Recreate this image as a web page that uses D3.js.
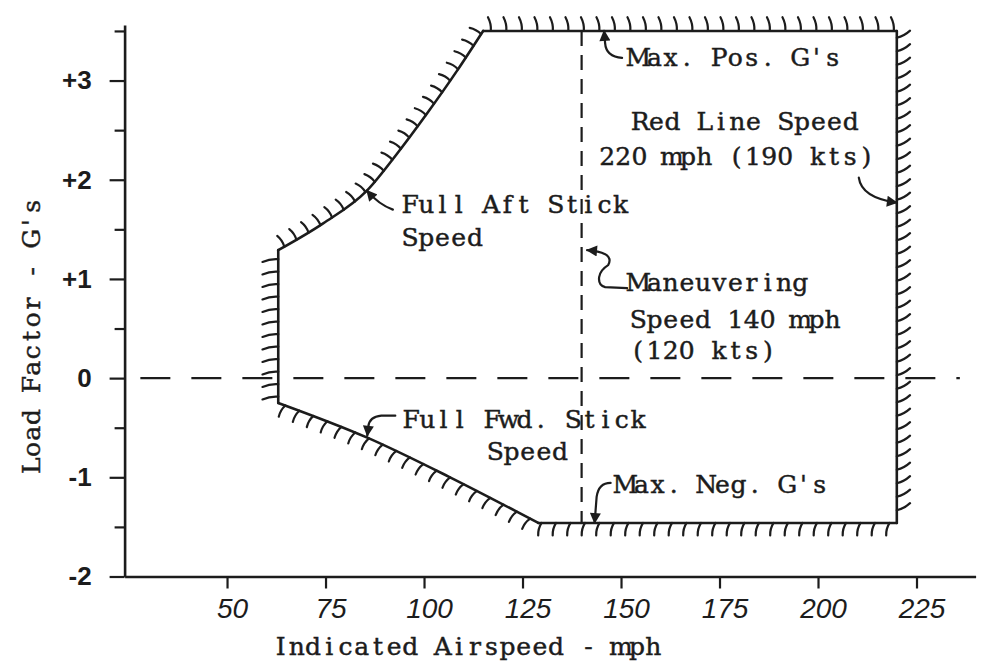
<!DOCTYPE html>
<html>
<head>
<meta charset="utf-8">
<script src="https://cdn.jsdelivr.net/npm/d3@7"></script>
<style>
  html, body { margin: 0; padding: 0; background: #fff; }
  svg { display: block; }
  .type { font-family: "DejaVu Serif", "Liberation Serif", serif; font-size: 25px; fill: #1c1c1c; stroke: #1c1c1c; stroke-width: 0.45px; white-space: pre; }
</style>
</head>
<body>
<svg id="chart" width="988" height="664"></svg>
<script>
// V-n envelope, values (mph, G)
const posStallSpeed = [63, 74.4, 85.5, 93.1, 100.8, 108.4, 115];
const posStallLoad  = [1.29, 1.56, 1.89, 2.26, 2.67, 3.10, 3.5];
const negStallSpeed = [63, 85.6, 106.6, 129];
const negStallLoad  = [-0.25, -0.60, -1.00, -1.46];
const maxPosG = 3.5;
const maxNegG = -1.46;
const redLineSpeed = 220;
const maneuverSpeed = 140;

const xTicks = [50, 75, 100, 125, 150, 175, 200, 225];
const yTicks = [-2, -1, 0, 1, 2, 3];
const yTickLabels = ['-2', '-1', '0', '+1', '+2', '+3'];
const yMinorTicks = [-1.5, -0.5, 0.5, 1.5, 2.5, 3.5];

// notes
const noteText  = ["Max. Pos. G's", "Red Line Speed", "220 mph (190 kts)", "Full Aft Stick", "Speed",
                   "Maneuvering", "Speed 140 mph", "(120 kts)", "Full Fwd. Stick", "Speed", "Max. Neg. G's"];
const noteSpeed = [152.3, 152.8, 144.4, 94.4, 94.4, 152.3, 152.3, 152.3, 94.7, 116, 149];
const noteLoad  = [3.15, 2.505, 2.15, 1.66, 1.33, 0.88, 0.51, 0.19, -0.50, -0.83, -1.16];

const arrowTipSpeed = [145.7, 220, 85.5, 141.4, 85.6, 143.3];
const arrowTipLoad  = [3.5, 1.77, 1.89, 1.29, -0.58, -1.46];
// hand-drawn arrow shapes, offsets in px from the tip
const arrowShapes = [
  'M18,27 Q2,26 1,12 L0,0',
  'M-38,-25 C-36,-10 -22,-3 0,0',
  'M26,19 Q12,14 0,0',
  'M40,38 L18,37 Q11,35 12,27 Q13,20 21,15 Q25,8 18,4 Q12,1 0,0',
  'M28,-20 L14,-20 Q2,-19 1,-9 L0,0',
  'M16,-40 Q4,-40 2,-26 L0,0'
];

const svg = d3.select('#chart');
const ink = '#1c1c1c';
const pitch = 16.2; // typewriter character width

const x = d3.scaleLinear().domain([24, 240]).range([124.6, 975.6]);
const y = d3.scaleLinear().domain([-2, 3.56]).range([576.5, 25]);

// typewriter text: one fixed cell per character
function typeText(parent, str, x0, y0) {
  const xs = Array.from(str, (c, i) => (x0 + pitch * (i + 0.5)).toFixed(1)).join(' ');
  return parent.append('text').attr('class', 'type')
    .attr('x', xs).attr('y', y0).attr('text-anchor', 'middle')
    .text(str);
}

// arrow head
svg.append('defs').append('marker')
  .attr('id', 'head')
  .attr('viewBox', '0 -5 10 10')
  .attr('refX', 9).attr('refY', 0)
  .attr('markerUnits', 'userSpaceOnUse')
  .attr('markerWidth', 13).attr('markerHeight', 11)
  .attr('orient', 'auto')
  .append('path').attr('d', 'M0,-5L10,0L0,5Z').attr('fill', ink);

// Axes
const yAxis = d3.axisLeft(y).tickValues(yTicks).tickSize(15).tickSizeOuter(0).tickPadding(18)
  .tickFormat((d, i) => yTickLabels[i]);
const gy = svg.append('g').attr('transform', `translate(${x(24)},0)`).call(yAxis);
svg.append('g').attr('transform', `translate(${x(24)},0)`)
  .call(d3.axisLeft(y).tickValues(yMinorTicks).tickSize(10).tickFormat(''))
  .select('.domain').remove();

const xAxis = d3.axisBottom(x).tickValues(xTicks).tickSize(12).tickSizeOuter(0).tickPadding(10);
const gx = svg.append('g').attr('transform', `translate(0,${y(-2)})`).call(xAxis);

svg.selectAll('.domain').attr('stroke', ink).attr('stroke-width', 2.6);
svg.selectAll('.tick line').attr('stroke', ink).attr('stroke-width', 2.2);
gy.selectAll('.tick text')
  .attr('font-family', '"Liberation Sans", Arial, sans-serif')
  .attr('font-weight', 'bold').attr('font-size', 26).attr('fill', ink);
gx.selectAll('.tick text')
  .attr('font-family', '"Liberation Sans", Arial, sans-serif')
  .attr('font-style', 'italic').attr('font-size', 28).attr('dx', 5).attr('fill', ink);

const xTitle = 'Indicated Airspeed - mph';
typeText(svg, xTitle, 467 - pitch * xTitle.length / 2, 655);
const yTitle = "Load Factor - G's";
typeText(svg.append('g').attr('transform', 'translate(40,336) rotate(-90)'),
  yTitle, -pitch * yTitle.length / 2, 0);

// Dashed reference lines
svg.append('line')
  .attr('x1', x(28)).attr('x2', x(236)).attr('y1', y(0)).attr('y2', y(0))
  .attr('stroke', ink).attr('stroke-width', 2.2).attr('stroke-dasharray', '30,21');
svg.append('line')
  .attr('x1', x(maneuverSpeed)).attr('x2', x(maneuverSpeed))
  .attr('y1', y(maxPosG)).attr('y2', y(maxNegG))
  .attr('stroke', ink).attr('stroke-width', 2.2).attr('stroke-dasharray', '15,9');

// Envelope boundary pieces (drawn clockwise so the hatches sit outside)
const last = a => a[a.length - 1];
const segments = [
  { pts: [[negStallSpeed[0], negStallLoad[0]], [posStallSpeed[0], posStallLoad[0]]], angle: -10, len: 16, step: 12.5, side: 1 },
  { pts: d3.zip(posStallSpeed, posStallLoad), curve: d3.curveMonotoneX, angle: -4, len: 13, step: 14, side: 1 },
  { pts: [[last(posStallSpeed), maxPosG], [redLineSpeed, maxPosG]], angle: -12, len: 14, step: 15.5, side: 1 },
  { pts: [[redLineSpeed, maxPosG], [redLineSpeed, maxNegG]], angle: -28, len: 15, step: 13.5, side: 1 },
  { pts: [[redLineSpeed, maxNegG], [last(negStallSpeed), maxNegG]], angle: 15, len: 13, step: 14.5, side: 1 },
  { pts: d3.zip(negStallSpeed, negStallLoad), curve: d3.curveMonotoneX, angle: 10, len: 13, step: 15, side: -1 }
];

const env = svg.append('g');
segments.forEach(seg => {
  const line = d3.line().x(d => x(d[0])).y(d => y(d[1])).curve(seg.curve || d3.curveLinear);
  const path = env.append('path')
    .attr('d', line(seg.pts))
    .attr('fill', 'none').attr('stroke', ink).attr('stroke-width', 2.6)
    .attr('stroke-linecap', 'round');
  const node = path.node();
  const L = node.getTotalLength();
  const a = seg.angle * Math.PI / 180;
  for (let s = seg.step * 0.5; s < L; s += seg.step) {
    const p = node.getPointAtLength(s);
    const p0 = node.getPointAtLength(Math.max(0, s - 1));
    const p1 = node.getPointAtLength(Math.min(L, s + 1));
    let dx = p1.x - p0.x, dy = p1.y - p0.y;
    const d = Math.hypot(dx, dy); dx /= d; dy /= d;
    const nx = seg.side * dy, ny = -seg.side * dx;
    const rx = nx * Math.cos(a) - ny * Math.sin(a);
    const ry = nx * Math.sin(a) + ny * Math.cos(a);
    const ex = p.x + rx * seg.len, ey = p.y + ry * seg.len;
    // slight bend like a pen stroke
    const cx = (p.x + ex) / 2 - ry * 2, cy = (p.y + ey) / 2 + rx * 2;
    env.append('path')
      .attr('d', `M${p.x},${p.y}Q${cx},${cy} ${ex},${ey}`)
      .attr('fill', 'none').attr('stroke', ink).attr('stroke-width', 2.2)
      .attr('stroke-linecap', 'round');
  }
});

// Notes and arrows
const notes = svg.append('g');
noteText.forEach((t, i) => typeText(notes, t, x(noteSpeed[i]), y(noteLoad[i])));

svg.append('g').selectAll('path')
  .data(arrowShapes)
  .join('path')
  .attr('transform', (d, i) => `translate(${x(arrowTipSpeed[i])},${y(arrowTipLoad[i])})`)
  .attr('d', d => d)
  .attr('fill', 'none').attr('stroke', ink).attr('stroke-width', 2.2)
  .attr('stroke-linecap', 'round')
  .attr('marker-end', 'url(#head)');
</script>
</body>
</html>
